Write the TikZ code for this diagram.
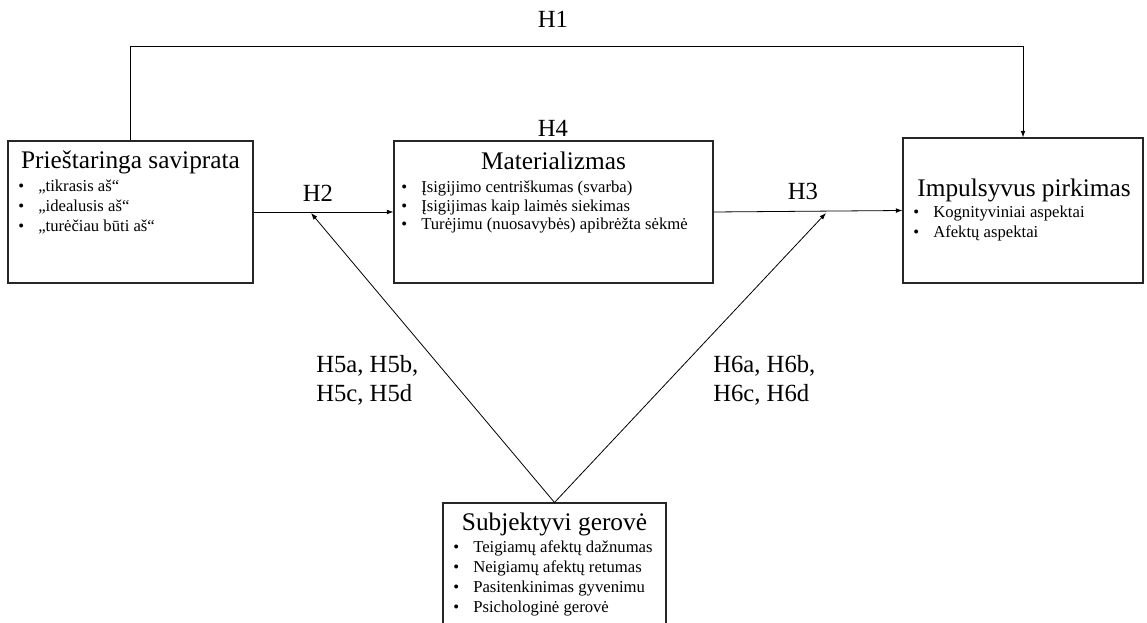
\documentclass[tikz,border=0pt]{standalone}
\usepackage{fontspec}
\setmainfont{Liberation Serif}
\usetikzlibrary{arrows.meta}
\newcommand{\pkt}{\makebox[15pt][l]{\textbullet}}

\begin{document}
\begin{tikzpicture}[x=0.75pt,y=-0.75pt]
	\tikzset{kastas/.style={draw=black!85,line width=0.8pt,inner sep=0pt}}
	\tikzset{antraste/.style={font=\fontsize{19}{23}\selectfont,anchor=base,inner sep=0pt}}
	\tikzset{sarasas/.style={font=\fontsize{12.5}{15}\selectfont,anchor=base west,inner sep=0pt}}
	\tikzset{hipoteze/.style={font=\fontsize{18.5}{21.75}\selectfont,inner sep=0pt}}
	\tikzset{rodykle/.style={-{Latex[length=5pt,width=3.6pt]},line width=0.6pt}}
	\useasboundingbox (0,0) rectangle (1147,623);
	% kintamuju blokai
	\node[kastas,minimum width=183.75pt,minimum height=106.5pt] (saviprata) at (130.5,212) {};
	\node[kastas,minimum width=239.25pt,minimum height=106.5pt] (materializmas) at (553.5,212) {};
	\node[kastas,minimum width=180pt,minimum height=108.75pt] (impulsyvus) at (1023,210.5) {};
	\node[kastas,minimum width=167.25pt,minimum height=110.25pt] (gerove) at (554.5,576.5) {};
	% antrastes
	\node[antraste] (saviprata-t) at (130.5,169) {Prieštaringa saviprata};
	\node[antraste] (materializmas-t) at (553.5,170) {Materializmas};
	\node[antraste] (impulsyvus-t) at (1024,197) {Impulsyvus pirkimas};
	\node[antraste] (gerove-t) at (554.5,531) {Subjektyvi gerovė};
	% sarasai
	\node[sarasas] (saviprata-s) at (18,192) {\begin{tabular}[t]{@{}l@{}}
		\pkt„tikrasis aš“\\
		\pkt„idealusis aš“\\
		\pkt„turėčiau būti aš“
	\end{tabular}};
	\node[sarasas,font=\fontsize{12.5}{13.9}\selectfont] (materializmas-s) at (401,192.5) {\begin{tabular}[t]{@{}l@{}}
		\pkt Įsigijimo centriškumas (svarba)\\
		\pkt Įsigijimas kaip laimės siekimas\\
		\pkt Turėjimu (nuosavybės) apibrėžta sėkmė
	\end{tabular}};
	\node[sarasas] (impulsyvus-s) at (913,218) {\begin{tabular}[t]{@{}l@{}}
		\pkt Kognityviniai aspektai\\
		\pkt Afektų aspektai
	\end{tabular}};
	\node[sarasas] (gerove-s) at (453,553) {\begin{tabular}[t]{@{}l@{}}
		\pkt Teigiamų afektų dažnumas\\
		\pkt Neigiamų afektų retumas\\
		\pkt Pasitenkinimas gyvenimu\\
		\pkt Psichologinė gerovė
	\end{tabular}};
	% rysiai
	\draw[rodykle] (saviprata.north) -- ++(0,-94) -| (impulsyvus.north);
	\draw[rodykle] (saviprata.east) -- (materializmas.west);
	\draw[rodykle] (materializmas.east) -- (impulsyvus.west);
	\coordinate (h5galas) at (311,213);
	\coordinate (h6galas) at (826,213);
	\draw[rodykle] (gerove.north) -- (h5galas);
	\draw[rodykle] (gerove.north) -- (h6galas);
	% hipotezes
	\node[hipoteze,anchor=base] (h1) at (553,28) {H1};
	\node[hipoteze,anchor=base] (h2) at (318,202) {H2};
	\node[hipoteze,anchor=base] (h3) at (803,200) {H3};
	\node[hipoteze,anchor=base] (h4) at (553,137) {H4};
	\node[hipoteze,anchor=base west] (h5) at (316,373) {\begin{tabular}[t]{@{}l@{}}H5a, H5b,\\H5c, H5d\end{tabular}};
	\node[hipoteze,anchor=base west] (h6) at (713,373) {\begin{tabular}[t]{@{}l@{}}H6a, H6b,\\H6c, H6d\end{tabular}};
\end{tikzpicture}
\end{document}
